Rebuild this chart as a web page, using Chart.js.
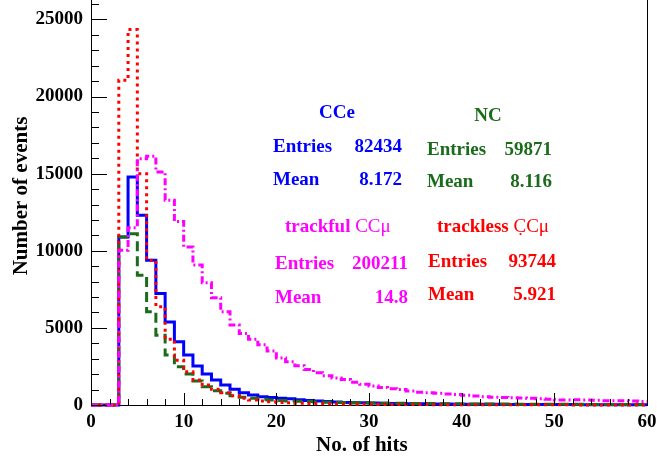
<!DOCTYPE html>
<html>
<head>
<meta charset="utf-8">
<script src="https://cdn.jsdelivr.net/npm/chart.js@4/dist/chart.umd.min.js"></script>
<style>
  html, body { margin: 0; padding: 0; background: #ffffff; }
  #wrap { width: 657px; height: 463px; }
</style>
</head>
<body>
<div id="wrap"><canvas id="c" width="657" height="463"></canvas></div>
<script>
// Hit-multiplicity histograms, one bin per hit count (0 .. 59)
const binLowEdges = Array.from({ length: 60 }, (_, i) => i);

const cceCounts = [
  0, 0, 0, 10900, 14790, 12300, 9390, 7230, 5380, 4100,
  3240, 2530, 2010, 1620, 1300, 1020, 800, 650, 540, 480,
  430, 400, 340, 290, 260, 230, 190, 170, 150, 140,
  130, 110, 100, 90, 85, 80, 70, 65, 60, 55,
  50, 48, 45, 42, 40, 38, 35, 33, 30, 30,
  28, 26, 25, 24, 22, 20, 20, 18, 18, 16
];

const ncCounts = [
  0, 0, 0, 10900, 11100, 8420, 6040, 4530, 3240, 2480,
  2010, 1550, 1190, 930, 760, 600, 500, 430, 370, 330,
  290, 260, 240, 220, 200, 185, 170, 160, 150, 140,
  130, 120, 115, 110, 100, 95, 90, 85, 80, 75,
  72, 70, 66, 63, 60, 58, 55, 52, 50, 48,
  46, 44, 42, 40, 38, 37, 36, 35, 34, 33
];

const tracklessCounts = [
  0, 0, 0, 21050, 24350, 15000, 9390, 6370, 4270, 2900,
  2160, 1620, 1300, 1020, 800, 600, 430, 330, 260, 210,
  170, 140, 120, 100, 90, 80, 70, 60, 55, 50,
  45, 40, 36, 33, 30, 28, 26, 24, 22, 20,
  18, 17, 16, 15, 14, 13, 12, 11, 10, 10,
  9, 9, 8, 8, 7, 7, 6, 6, 5, 5
];

const trackfulCounts = [
  0, 0, 0, 10040, 11500, 15970, 16130, 15110, 13280, 11900,
  10250, 9070, 7920, 6950, 6040, 5180, 4640, 4270, 3900, 3500,
  3050, 2800, 2550, 2300, 2090, 1900, 1750, 1650, 1470, 1350,
  1230, 1130, 1060, 1000, 900, 820, 790, 760, 720, 680,
  630, 580, 540, 510, 490, 470, 450, 430, 410, 380,
  330, 330, 340, 330, 300, 280, 280, 270, 260, 220
];

// Axis tick labels
const xTickValues = [0, 10, 20, 30, 40, 50, 60];
const yTickValues = [0, 5000, 10000, 15000, 20000, 25000];

// Statistics printed for each sample
const statNames   = ['CCe', 'NC', 'trackful', 'trackless'];
const statEntries = ['82434', '59871', '200211', '93744'];
const statMeans   = ['8.172', '8.116', '14.8', '5.921'];

const SERIF = '"Liberation Serif", "DejaVu Serif", serif';
const COLORS = { cce: '#0000ff', nc: '#1a6b1a', trackful: '#ff00ff', trackless: '#ff0000' };

// Turn bin contents into an outline: one point per low edge plus the last upper edge
function outline(counts) {
  const pts = binLowEdges.map((x, i) => ({ x: x, y: counts[i] }));
  pts.push({ x: binLowEdges[binLowEdges.length - 1] + 1, y: counts[counts.length - 1] });
  return pts;
}

function histDataset(label, counts, color, dash, order) {
  return {
    label: label,
    data: outline(counts),
    borderColor: color,
    borderWidth: 3,
    borderDash: dash,
    borderCapStyle: 'butt',
    stepped: 'before',
    pointRadius: 0,
    fill: false,
    clip: 6,
    order: order
  };
}

// Inner tick marks, frame edge, axis titles and statistics text
const decorations = {
  id: 'decorations',
  afterDatasetsDraw(chart) {
    const ctx = chart.ctx;
    const area = chart.chartArea;
    const xs = chart.scales.x, ys = chart.scales.y;
    ctx.save();
    ctx.strokeStyle = '#000000';
    ctx.lineWidth = 1;
    ctx.beginPath();
    for (let v = 0; v <= 26000; v += 1000) {
      const py = Math.round(ys.getPixelForValue(v)) + 0.5;
      const len = (v % 5000 === 0) ? 16 : 8;
      ctx.moveTo(area.left, py);
      ctx.lineTo(area.left + len, py);
    }
    for (let v = 0; v <= 60; v += 2) {
      const px = Math.round(xs.getPixelForValue(v)) + 0.5;
      const len = (v % 10 === 0) ? 12 : 6;
      ctx.moveTo(px, area.bottom);
      ctx.lineTo(px, area.bottom - len);
    }
    // right edge of the frame
    ctx.moveTo(Math.round(area.right) + 0.5, area.top);
    ctx.lineTo(Math.round(area.right) + 0.5, area.bottom);
    ctx.stroke();
    ctx.restore();
  },
  afterDraw(chart) {
    const ctx = chart.ctx;
    ctx.save();
    ctx.textBaseline = 'middle';
    ctx.fillStyle = '#000000';

    // axis titles
    ctx.font = 'bold 21px ' + SERIF;
    ctx.textAlign = 'left';
    ctx.fillText('No. of hits', 316, 446);
    ctx.save();
    ctx.translate(22, 196);
    ctx.rotate(-Math.PI / 2);
    ctx.textAlign = 'center';
    ctx.fillText('Number of events', 0, 0);
    ctx.restore();

    const bold = 'bold 19px ' + SERIF;
    const plain = '19px ' + SERIF;

    function row(color, left, right, y, name, value) {
      ctx.fillStyle = color;
      ctx.font = bold;
      ctx.textAlign = 'left';
      ctx.fillText(name, left, y);
      ctx.textAlign = 'right';
      ctx.fillText(value, right, y);
    }
    function title(color, x, y, boldPart, plainPart) {
      ctx.fillStyle = color;
      ctx.textAlign = 'left';
      ctx.font = bold;
      ctx.fillText(boldPart, x, y);
      const w = ctx.measureText(boldPart).width;
      if (plainPart) {
        ctx.font = plain;
        ctx.fillText(plainPart, x + w, y);
      }
    }

    // CCe
    ctx.fillStyle = COLORS.cce;
    ctx.font = bold;
    ctx.textAlign = 'center';
    ctx.fillText(statNames[0], 337, 113);
    row(COLORS.cce, 273, 402, 147, 'Entries', statEntries[0]);
    row(COLORS.cce, 273, 402, 180, 'Mean', statMeans[0]);

    // NC
    ctx.fillStyle = COLORS.nc;
    ctx.font = bold;
    ctx.textAlign = 'center';
    ctx.fillText(statNames[1], 488, 116);
    row(COLORS.nc, 427, 552, 150, 'Entries', statEntries[1]);
    row(COLORS.nc, 427, 552, 182, 'Mean', statMeans[1]);

    // trackful CCmu
    title(COLORS.trackful, 285, 227, statNames[2] + ' ', 'CC\u03bc');
    row(COLORS.trackful, 275, 408, 264, 'Entries', statEntries[2]);
    row(COLORS.trackful, 275, 408, 298, 'Mean', statMeans[2]);

    // trackless CCmu
    title(COLORS.trackless, 437, 227, statNames[3] + ' ', 'C\u0323C\u03bc');
    row(COLORS.trackless, 428, 556, 262, 'Entries', statEntries[3]);
    row(COLORS.trackless, 428, 556, 295, 'Mean', statMeans[3]);

    ctx.restore();
  }
};

new Chart(document.getElementById('c'), {
  type: 'line',
  data: {
    datasets: [
      histDataset('trackful CC\u03bc', trackfulCounts, COLORS.trackful, [7, 3, 2, 3], 0),
      histDataset('trackless CC\u03bc', tracklessCounts, COLORS.trackless, [3, 4], 1),
      histDataset('NC', ncCounts, COLORS.nc, [10, 5], 2),
      histDataset('CCe', cceCounts, COLORS.cce, [], 3)
    ]
  },
  options: {
    responsive: false,
    animation: false,
    devicePixelRatio: 1,
    layout: { padding: { top: 0, right: 10, bottom: 0, left: 0 } },
    plugins: { legend: { display: false }, tooltip: { enabled: false } },
    scales: {
      x: {
        type: 'linear',
        min: 0,
        max: 60,
        afterBuildTicks: (scale) => { scale.ticks = xTickValues.map(v => ({ value: v })); },
        afterFit: (scale) => {
          scale.height = 58;
          scale.paddingLeft = 0;
          scale.paddingRight = 0;
        },
        grid: { display: false, drawTicks: false },
        border: { display: true, color: '#000000', width: 1 },
        ticks: {
          padding: 6,
          color: '#000000',
          maxRotation: 0,
          autoSkip: false,
          font: { family: SERIF, size: 19, weight: 'bold' }
        }
      },
      y: {
        type: 'linear',
        min: 0,
        max: 26260,
        afterBuildTicks: (scale) => { scale.ticks = yTickValues.map(v => ({ value: v })); },
        afterFit: (scale) => {
          scale.width = 91;
          scale.paddingTop = 0;
          scale.paddingBottom = 0;
        },
        grid: { display: false, drawTicks: false },
        border: { display: true, color: '#000000', width: 1 },
        ticks: {
          padding: 8,
          color: '#000000',
          autoSkip: false,
          font: { family: SERIF, size: 19, weight: 'bold' },
          callback: (v) => String(v)
        }
      }
    }
  },
  plugins: [decorations]
});
</script>
</body>
</html>
